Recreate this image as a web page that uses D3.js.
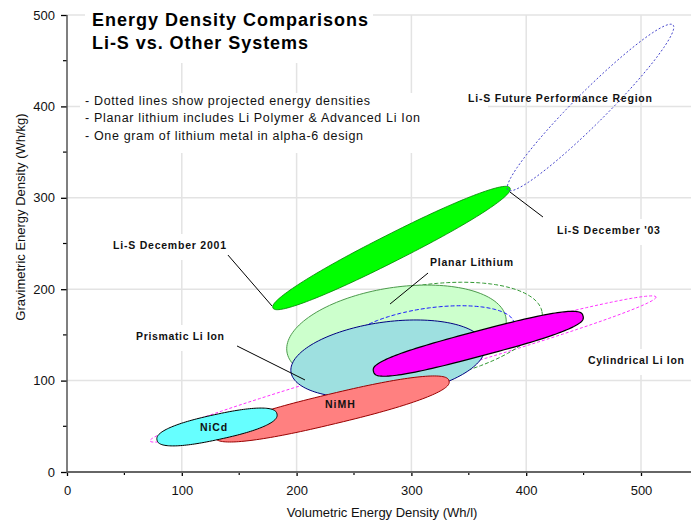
<!DOCTYPE html>
<html><head><meta charset="utf-8">
<script src="https://cdn.jsdelivr.net/npm/d3@7"></script>
<style>
html,body{margin:0;padding:0;background:#fff;}
text{font-family:"Liberation Sans",Arial,sans-serif;}
</style></head>
<body>
<svg id="chart" width="691" height="521"></svg>
<script>
// ---- data (Wh/l, Wh/kg) ----
const regionNames = ["Cylindrical Li Ion (projected)","Planar Lithium (projected)","Planar Lithium","Prismatic Li Ion (projected)","Prismatic Li Ion","NiMH","Cylindrical Li Ion","NiCd","Li-S Dec 2001 to Dec '03","Li-S Future Performance Region"];
const volStart  = [72.3, 194.3, 191.6, 243.0, 195.1, 128.9, 267.0, 78.4, 179.4, 384.1];
const gravStart = [33.9, 126.9, 131.3, 136.8, 109.4, 38.3, 109.9, 35.0, 179.4, 308.5];
const volEnd    = [513.1, 413.8, 382.4, 389.4, 364.1, 332.8, 449.5, 182.9, 385.9, 527.9];
const gravEnd   = [191.5, 175.1, 168.5, 163.0, 137.9, 99.6, 170.7, 63.5, 310.7, 489.1];
const gravSpread= [14.2, 52, 52, 29.5, 40.6, 16.4, 13.7, 13.7, 14.7, 17.5];

const labelTexts = ["Li-S Future Performance Region","Li-S December 2001","Planar Lithium","Li-S December '03","Prismatic Li Ion","Cylindrical Li Ion","NiMH","NiCd"];
const labelVol   = [349.3, 40.1, 316.2, 426.8, 60.1, 453.8, 224.7, 115.9];
const labelGrav  = [404.8, 244.0, 225.4, 260.4, 144.4, 118.2, 70.0, 44.9];

const leaderVol1  = [140.2, 385.9, 314.5, 148.1];
const leaderGrav1 = [237.4, 306.3, 217.7, 137.9];
const leaderVol2  = [178.6, 414.6, 281.4, 207.3];
const leaderGrav2 = [181.6, 279.0, 183.8, 100.7];

const xTicks = [0,100,200,300,400,500];
const yTicks = [0,100,200,300,400,500];
const xMinor = [50,150,250,350,450];
const yMinor = [50,150,250,350,450];

const titleLines = ["Energy Density Comparisons","Li-S vs. Other Systems"];
const notes = ["- Dotted lines show projected energy densities","- Planar lithium includes Li Polymer & Advanced Li Ion","- One gram of lithium metal in alpha-6 design"];
const xTitle = "Volumetric Energy Density (Wh/l)";
const yTitle = "Gravimetric Energy Density (Wh/kg)";

// ---- styles ----
const regionStyle = [
  {fill:"none", stroke:"#ff33ff", sw:1, dash:"3,2", p:2},
  {fill:"none", stroke:"#339933", sw:1, dash:"4,2", p:2},
  {fill:"#ccffcc", stroke:"#4c9a4c", sw:1, dash:null, p:2},
  {fill:"none", stroke:"#1a1aff", sw:1, dash:"4,2", p:2},
  {fill:"#9ee0e0", stroke:"#000080", sw:1, dash:null, p:2},
  {fill:"#ff8080", stroke:"#990000", sw:1, dash:null, p:2.4},
  {fill:"#ff00ff", stroke:"#000000", sw:1.2, dash:null, p:2.8},
  {fill:"#66ffff", stroke:"#000000", sw:1, dash:null, p:2.4},
  {fill:"#00ff00", stroke:"#008000", sw:0.8, dash:null, p:2.2},
  {fill:"none", stroke:"#4444cc", sw:1, dash:"2,2", p:2}
];
const labelWidth = [184, 113, 83, 103, 88, 96, 30, 27];
const labelBox = [false, true, true, true, true, true, false, false];

const svg = d3.select("#chart");
const x = d3.scaleLinear().domain([0,545]).range([67, 67+545*1.148]);
const y = d3.scaleLinear().domain([0,500]).range([472, 15]);
const kY = y(0) - y(1);

// gridlines
const grid = svg.append("g");
grid.selectAll("line.v").data(xTicks.filter(d=>d>0)).join("line")
  .attr("x1",d=>x(d)).attr("x2",d=>x(d)).attr("y1",y(0)).attr("y2",y(500))
  .attr("stroke","#e3e3e3").attr("stroke-width",1.5);
grid.selectAll("line.h").data(yTicks.filter(d=>d>0)).join("line")
  .attr("x1",x(0)).attr("x2",691).attr("y1",d=>y(d)).attr("y2",d=>y(d))
  .attr("stroke","#e3e3e3").attr("stroke-width",1.5);

// white text boxes that interrupt grid
svg.append("rect").attr("x",85).attr("y",0).attr("width",288).attr("height",63).attr("fill","#fff");
svg.append("rect").attr("x",80).attr("y",93).attr("width",408).attr("height",60).attr("fill","#fff");
labelTexts.forEach((t,i)=>{
  if(!labelBox[i]) return;
  svg.append("rect").attr("x",x(labelVol[i])-8).attr("y",y(labelGrav[i])-15)
    .attr("width",labelWidth[i]+16).attr("height",26).attr("fill","#fff");
});

// regions
function regionPath(i){
  const x1=x(volStart[i]), y1=y(gravStart[i]), x2=x(volEnd[i]), y2=y(gravEnd[i]);
  const cx=(x1+x2)/2, cy=(y1+y2)/2;
  const a=Math.hypot(x2-x1,y2-y1)/2, th=Math.atan2(y2-y1,x2-x1);
  const b=gravSpread[i]*kY, p=regionStyle[i].p;
  const pts=[];
  const n=160;
  for(let k=0;k<n;k++){
    const t=2*Math.PI*k/n, c=Math.cos(t), s=Math.sin(t);
    const u=a*Math.sign(c)*Math.pow(Math.abs(c),2/p);
    const v=b*Math.sign(s)*Math.pow(Math.abs(s),2/p);
    pts.push([cx+u*Math.cos(th)-v*Math.sin(th), cy+u*Math.sin(th)+v*Math.cos(th)]);
  }
  return d3.line().curve(d3.curveLinearClosed)(pts);
}
const rg = svg.append("g");
regionNames.forEach((name,i)=>{
  const st=regionStyle[i];
  rg.append("path").attr("d",regionPath(i)).attr("fill",st.fill)
    .attr("stroke",st.stroke).attr("stroke-width",st.sw)
    .attr("stroke-dasharray",st.dash).append("title").text(name);
});

// leader lines
leaderVol1.forEach((v,i)=>{
  svg.append("line").attr("x1",x(v)).attr("y1",y(leaderGrav1[i]))
    .attr("x2",x(leaderVol2[i])).attr("y2",y(leaderGrav2[i]))
    .attr("stroke","#000").attr("stroke-width",1);
});

// labels
labelTexts.forEach((t,i)=>{
  svg.append("text").attr("x",x(labelVol[i])).attr("y",y(labelGrav[i]))
    .attr("font-size",10.5).attr("font-weight","bold").attr("fill","#111")
    .attr("textLength",labelWidth[i]).attr("lengthAdjust","spacing").text(t);
});

// axes
const xAxis = d3.axisBottom(x).tickValues(xTicks).tickSize(4).tickSizeOuter(0).tickPadding(10);
const gx = svg.append("g").attr("transform",`translate(0,${y(0)})`).call(xAxis);
gx.select(".domain").remove();
gx.selectAll("text").attr("font-size",13).attr("font-family","Liberation Sans, Arial, sans-serif").attr("fill","#111");
gx.selectAll(".tick line").attr("stroke","#000").attr("stroke-width",1.3);
gx.selectAll("line.minor").data(xMinor).join("line").attr("class","minor")
  .attr("x1",d=>x(d)).attr("x2",d=>x(d)).attr("y1",0).attr("y2",3).attr("stroke","#000").attr("stroke-width",1.2);

const yAxis = d3.axisLeft(y).tickValues(yTicks).tickSize(6).tickSizeOuter(0).tickPadding(6);
const gy = svg.append("g").attr("transform",`translate(${x(0)},0)`).call(yAxis);
gy.select(".domain").remove();
gy.selectAll("text").attr("font-size",13).attr("font-family","Liberation Sans, Arial, sans-serif").attr("fill","#111");
gy.selectAll(".tick line").attr("stroke","#000").attr("stroke-width",1.3);
gy.selectAll("line.minor").data(yMinor).join("line").attr("class","minor")
  .attr("x1",-4).attr("x2",0).attr("y1",d=>y(d)).attr("y2",d=>y(d)).attr("stroke","#000").attr("stroke-width",1.2);

svg.append("line").attr("x1",x(0)).attr("x2",691).attr("y1",y(0)).attr("y2",y(0)).attr("stroke","#666").attr("stroke-width",2);
svg.append("line").attr("x1",x(0)).attr("x2",x(0)).attr("y1",y(0)+1).attr("y2",y(500)).attr("stroke","#555").attr("stroke-width",1.5);

// titles
const titleW=[276,216];
titleLines.forEach((t,i)=>{
  svg.append("text").attr("x",92).attr("y",26+i*23).attr("font-size",18).attr("font-weight","bold")
    .attr("fill","#000").attr("textLength",titleW[i]).attr("lengthAdjust","spacing").text(t);
});
const noteW=[285,335,278];
notes.forEach((t,i)=>{
  svg.append("text").attr("x",85).attr("y",105+i*17.3).attr("font-size",12.5).attr("fill","#111")
    .attr("textLength",noteW[i]).attr("lengthAdjust","spacing").text(t);
});
svg.append("text").attr("x",382).attr("y",517).attr("text-anchor","middle").attr("font-size",13).attr("fill","#111").text(xTitle);
svg.append("text").attr("transform","translate(25,217) rotate(-90)").attr("text-anchor","middle").attr("font-size",13).attr("fill","#111").text(yTitle);
</script>
</body></html>
